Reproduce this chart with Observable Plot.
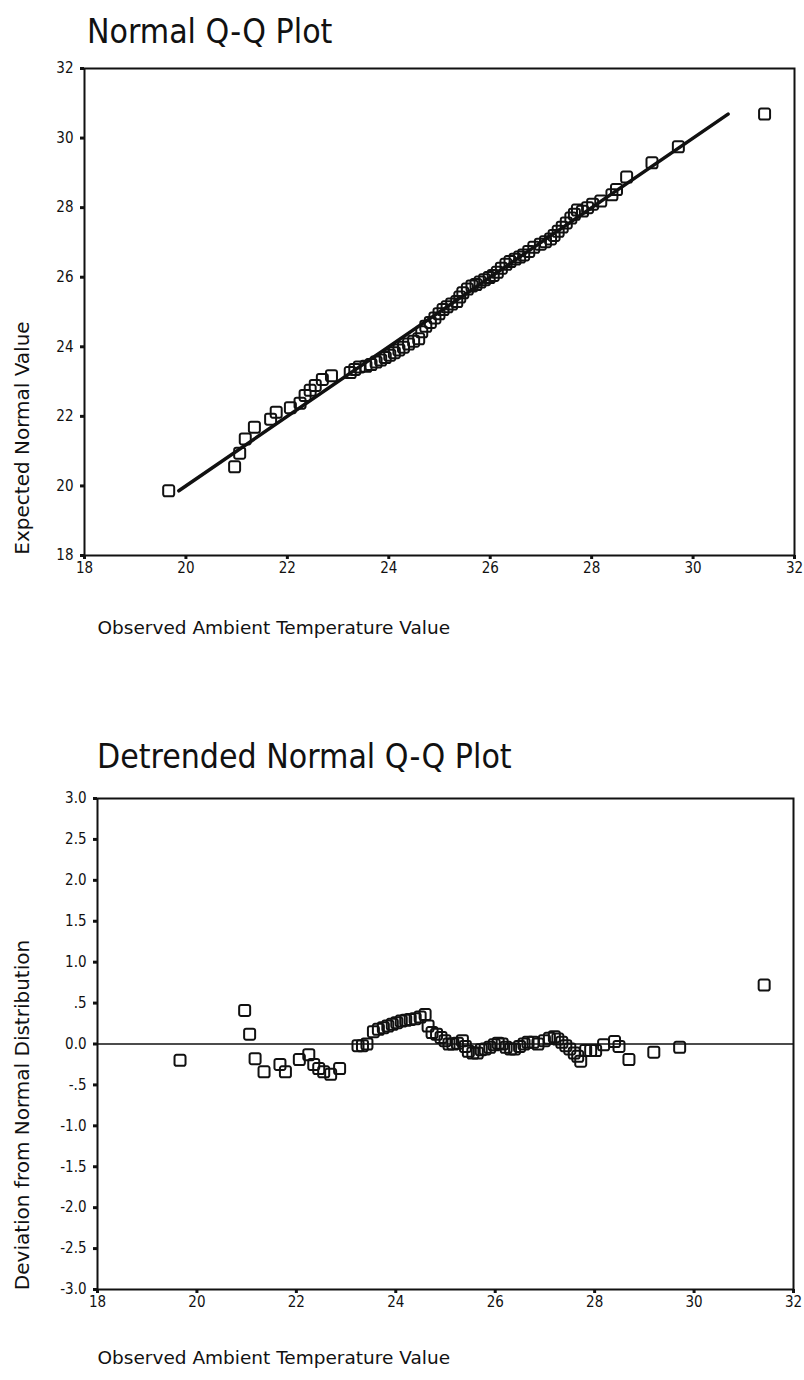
<!DOCTYPE html>
<html>
<head>
<meta charset="utf-8">
<script src="https://cdn.jsdelivr.net/npm/d3@7"></script>
<script src="https://cdn.jsdelivr.net/npm/@observablehq/plot@0.6"></script>
<style>
  body { margin: 0; background: #fff; width: 804px; height: 1380px; overflow: hidden; }
  .title {
    font-family: "DejaVu Sans Condensed", "DejaVu Sans", sans-serif;
    font-size: 33.5px; color: #111; box-sizing: border-box; white-space: nowrap;
  }
  #t1 { height: 50px; padding-top: 13px; line-height: 38px; padding-left: 87px; }
  #t2 { height: 120px; padding-top: 78px; line-height: 38px; padding-left: 97px; }
  svg { display: block; }
</style>
</head>
<body>
<div id="t1" class="title">Normal Q-Q Plot</div>
<div id="p1"></div>
<div id="t2" class="title">Detrended Normal Q-Q Plot</div>
<div id="p2"></div>
<script>
// Observed ambient temperature values (sorted)
const observed = [
  19.66, 20.96, 21.06, 21.17, 21.35, 21.67, 21.78, 22.06, 22.25, 22.35,
  22.45, 22.55, 22.69, 22.87, 23.24, 23.33, 23.42, 23.55, 23.65, 23.75,
  23.84, 23.93, 24.02, 24.11, 24.20, 24.29, 24.39, 24.49, 24.59, 24.65,
  24.73, 24.82, 24.91, 24.99, 25.07, 25.15, 25.24, 25.34, 25.40, 25.46,
  25.55, 25.64, 25.72, 25.80, 25.89, 25.98, 26.06, 26.14, 26.22, 26.31,
  26.39, 26.49, 26.58, 26.66, 26.76, 26.86, 26.99, 27.09, 27.19, 27.26,
  27.34, 27.42, 27.50, 27.59, 27.66, 27.72, 27.82, 27.92, 28.02, 28.18,
  28.40, 28.49, 28.69, 29.19, 29.71, 31.41
];

// Expected normal value for each observation
const expected = [
  19.86, 20.55, 20.94, 21.35, 21.69, 21.92, 22.12, 22.25, 22.38, 22.60,
  22.75, 22.89, 23.06, 23.17, 23.26, 23.35, 23.42, 23.44, 23.49, 23.56,
  23.62, 23.69, 23.76, 23.83, 23.91, 23.99, 24.08, 24.16, 24.23, 24.43,
  24.59, 24.70, 24.83, 24.95, 25.07, 25.15, 25.23, 25.30, 25.43, 25.55,
  25.66, 25.75, 25.79, 25.86, 25.93, 25.99, 26.05, 26.14, 26.26, 26.37,
  26.45, 26.52, 26.58, 26.64, 26.74, 26.86, 26.95, 27.02, 27.10, 27.20,
  27.32, 27.44, 27.56, 27.70, 27.81, 27.93, 27.90, 28.00, 28.10, 28.19,
  28.37, 28.52, 28.88, 29.29, 29.75, 30.69
];

// Deviation from normal distribution for each observation
const deviation = [
  -0.20, 0.41, 0.12, -0.18, -0.34, -0.25, -0.34, -0.19, -0.13, -0.25,
  -0.30, -0.34, -0.37, -0.30, -0.02, -0.02, 0.00, 0.15, 0.18, 0.20,
  0.22, 0.24, 0.26, 0.28, 0.29, 0.30, 0.31, 0.33, 0.36, 0.22,
  0.14, 0.12, 0.08, 0.04, 0.00, 0.00, 0.01, 0.04, -0.03, -0.09,
  -0.11, -0.11, -0.07, -0.06, -0.04, -0.01, 0.01, 0.00, -0.04, -0.06,
  -0.06, -0.03, 0.00, 0.02, 0.02, 0.00, 0.04, 0.07, 0.09, 0.06,
  0.02, -0.02, -0.06, -0.11, -0.15, -0.21, -0.08, -0.08, -0.08, -0.01,
  0.03, -0.03, -0.19, -0.10, -0.04, 0.72
];

// Axis ticks
const tempTicks = [18, 20, 22, 24, 26, 28, 30, 32];
const devTicks = [3, 2.5, 2, 1.5, 1, 0.5, 0, -0.5, -1, -1.5, -2, -2.5, -3];

const qqRows = observed.map((o, i) => ({observed: o, expected: expected[i]}));
const devRows = observed.map((o, i) => ({observed: o, deviation: deviation[i]}));
const refLine = d3.extent(expected);

const tickFont = '"DejaVu Sans Condensed", "Liberation Sans Narrow", sans-serif';
const labelFont = '"DejaVu Sans", sans-serif';
const ink = "#111";

const devFormat = d => {
  if (d === 0) return "0.0";
  const a = Math.abs(d);
  const s = a < 1 ? a.toFixed(1).replace(/^0/, "") : a.toFixed(1);
  return (d < 0 ? "-" : "") + s;
};

// Square marker with softly rounded corners
const roundSquare = {
  draw(context, size) {
    const h = Math.sqrt(size) / 2, c = h * 0.35;
    context.moveTo(-h + c, -h);
    context.arcTo(h, -h, h, h, c);
    context.arcTo(h, h, -h, h, c);
    context.arcTo(-h, h, -h, -h, c);
    context.arcTo(-h, -h, h, -h, c);
    context.closePath();
  }
};

const squareDot = {symbol: roundSquare, r: 6.2, fill: "none", stroke: ink, strokeWidth: 2};

const axisStyle = {tickSize: 4, strokeWidth: 3, fontSize: 15, fill: ink, label: null};

// Normal Q-Q plot
const qq = Plot.plot({
  width: 804,
  height: 610,
  marginTop: 18,
  marginLeft: 84,
  marginRight: 10,
  marginBottom: 105,
  style: {fontFamily: tickFont, color: ink, background: "#fff"},
  x: {domain: [18, 32]},
  y: {domain: [18, 32]},
  marks: [
    Plot.frame({stroke: ink, strokeWidth: 2}),
    Plot.axisX({ticks: tempTicks, tickPadding: 3, ...axisStyle}),
    Plot.axisY({ticks: tempTicks, tickPadding: 7, ...axisStyle}),
    Plot.line(refLine, {x: d => d, y: d => d, stroke: ink, strokeWidth: 3.5}),
    Plot.dot(qqRows, {x: "observed", y: "expected", ...squareDot}),
    Plot.text(["Observed Ambient Temperature Value"], {
      frameAnchor: "bottom-left", textAnchor: "start", dx: 13, dy: 78,
      fontFamily: labelFont, fontSize: 18.5, fill: ink
    }),
    Plot.text(["Expected Normal Value"], {
      frameAnchor: "left", textAnchor: "middle", rotate: -90, dx: -62, dy: 126,
      fontFamily: labelFont, fontSize: 20, fill: ink
    })
  ]
});
document.getElementById("p1").append(qq);

// Detrended normal Q-Q plot
const dev = Plot.plot({
  width: 804,
  height: 600,
  marginTop: 18,
  marginLeft: 97,
  marginRight: 11,
  marginBottom: 91,
  style: {fontFamily: tickFont, color: ink, background: "#fff"},
  x: {domain: [18, 32]},
  y: {domain: [-3, 3]},
  marks: [
    Plot.frame({stroke: ink, strokeWidth: 2}),
    Plot.axisX({ticks: tempTicks, tickPadding: 3, ...axisStyle}),
    Plot.axisY({ticks: devTicks, tickFormat: devFormat, tickPadding: 7, ...axisStyle}),
    Plot.ruleY([0], {stroke: ink, strokeWidth: 1.5}),
    Plot.dot(devRows, {x: "observed", y: "deviation", ...squareDot}),
    Plot.text(["Observed Ambient Temperature Value"], {
      frameAnchor: "bottom-left", textAnchor: "start", dx: 0, dy: 74,
      fontFamily: labelFont, fontSize: 18.5, fill: ink
    }),
    Plot.text(["Deviation from Normal Distribution"], {
      frameAnchor: "left", textAnchor: "middle", rotate: -90, dx: -75, dy: 71,
      fontFamily: labelFont, fontSize: 20, fill: ink
    })
  ]
});
document.getElementById("p2").append(dev);
</script>
</body>
</html>
